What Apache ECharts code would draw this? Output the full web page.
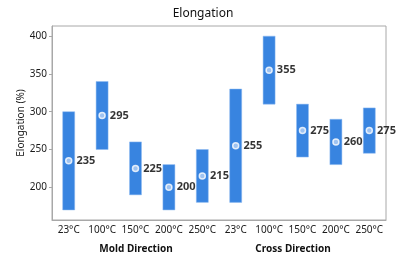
<!DOCTYPE html>
<html><head><meta charset="utf-8">
<script src="https://cdn.jsdelivr.net/npm/echarts@6/dist/echarts.min.js"></script>
<style>html,body{margin:0;padding:0;background:#fff}#c{width:406px;height:258px}</style>
</head><body><div id="c"></div>
<script>
const categories = ['23°C','100°C','150°C','200°C','250°C','23°C','100°C','150°C','200°C','250°C'];
const lows  = [170, 250, 190, 170, 180, 180, 310, 240, 230, 245];
const highs = [300, 340, 260, 230, 250, 330, 400, 310, 290, 305];
const means = [235, 295, 225, 200, 215, 255, 355, 275, 260, 275];
const groups = ['Mold Direction', 'Cross Direction'];

const FONT = '"Noto Sans", sans-serif';
const chart = echarts.init(document.getElementById('c'), null, {renderer:'canvas'});
const barColor = '#3884e0';
chart.setOption({
  animation: false,
  title: { text: 'Elongation', left: 'center', top: 3,
    textStyle: { fontFamily: FONT, fontSize: 12, fontWeight: 'normal', color: '#111' } },
  grid: { left: 52, right: 20, top: 26, bottom: 38, show: true, borderColor: '#a8a8a8', borderWidth: 1 },
  xAxis: {
    type: 'category', data: categories, boundaryGap: true,
    axisLine: { lineStyle: { color: '#a8a8a8' } },
    axisTick: { alignWithLabel: true, length: 3, lineStyle: { color: '#a8a8a8' } },
    axisLabel: { fontFamily: FONT, fontSize: 10, color: '#1a1a1a', margin: 5, interval: 0 }
  },
  yAxis: {
    type: 'value', min: 156.7, max: 413.4, splitNumber: 5,
    name: 'Elongation (%)', nameLocation: 'middle', nameGap: 26, nameMoveOverlap: false,
    nameTextStyle: { fontFamily: FONT, fontSize: 10, color: '#1a1a1a' },
    splitLine: { show: false },
    axisLine: { show: true, lineStyle: { color: '#a8a8a8' } },
    axisTick: { show: true, length: 3, lineStyle: { color: '#a8a8a8' } },
    axisLabel: { fontFamily: FONT, fontSize: 10, color: '#1a1a1a', margin: 5, showMinLabel: false, showMaxLabel: false }
  },
  graphic: [
    { type: 'text', x: 136, y: 249, style: { text: groups[0], font: 'bold 10px ' + FONT, fill: '#111', textAlign: 'center', textVerticalAlign: 'middle' } },
    { type: 'text', x: 293, y: 249, style: { text: groups[1], font: 'bold 10px ' + FONT, fill: '#111', textAlign: 'center', textVerticalAlign: 'middle' } }
  ],
  series: [
    {
      type: 'custom',
      data: categories.map((c, i) => [i, lows[i], highs[i]]),
      renderItem: function (params, api) {
        const lo = api.coord([api.value(0), api.value(1)]);
        const hi = api.coord([api.value(0), api.value(2)]);
        const w = 12;
        return { type: 'rect', shape: { x: lo[0] - w / 2, y: hi[1], width: w, height: lo[1] - hi[1] },
          style: { fill: barColor, stroke: '#8fbaf0', lineWidth: 0.5 } };
      },
      encode: { x: 0, y: [1, 2] }
    },
    {
      type: 'scatter',
      data: means.map((m, i) => [i, m]),
      symbol: 'circle', symbolSize: 6,
      itemStyle: { color: '#b9d3f5', borderColor: '#ffffff', borderWidth: 1.5 },
      label: { show: true, position: 'right', distance: 4, formatter: p => String(p.value[1]),
        fontFamily: FONT, fontSize: 11, fontWeight: 'bold', color: '#000' },
      z: 5
    }
  ]
});
</script></body></html>
